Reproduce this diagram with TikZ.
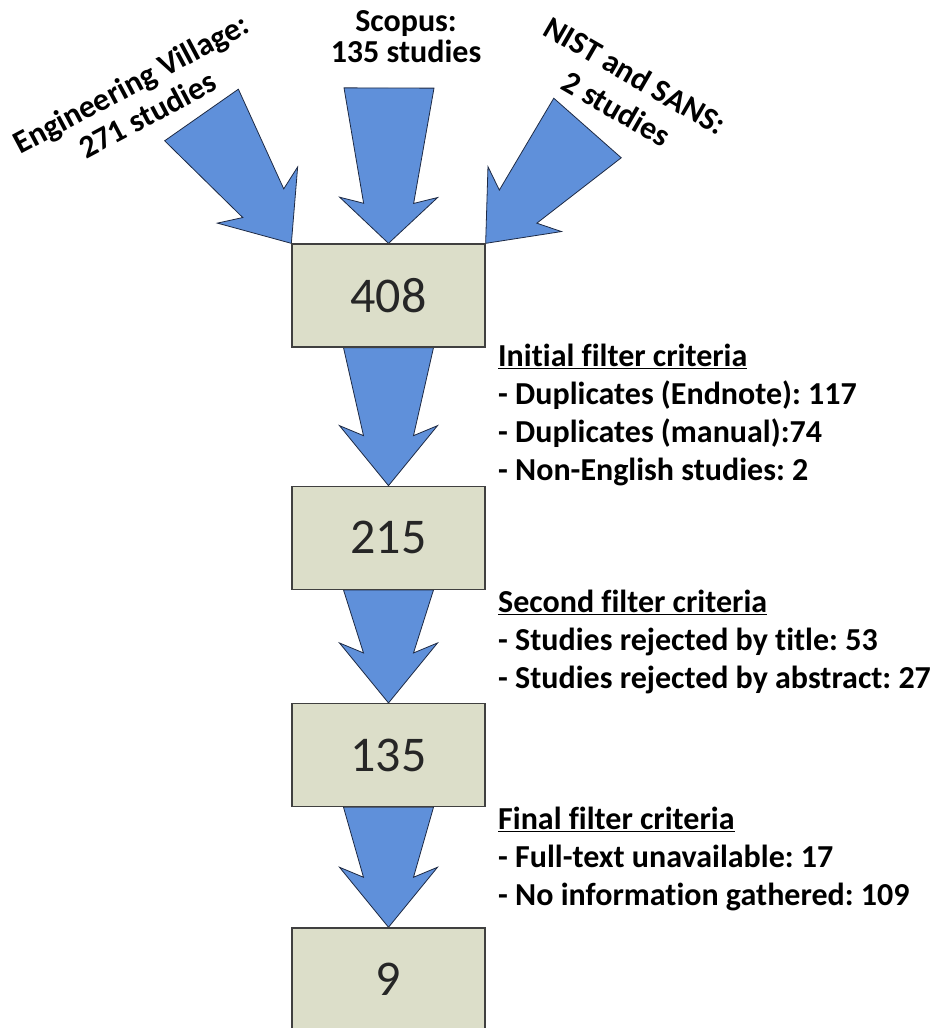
\documentclass[tikz,border=0pt]{standalone}
\usepackage{fontspec}
\setmainfont{Carlito}[Ligatures=NoCommon]
\usepackage{tikz}
\usetikzlibrary{calc, positioning}

\definecolor{arrowblue}{HTML}{5F90DA}
\definecolor{arrowline}{HTML}{1E2A44}
\definecolor{boxfill}{HTML}{DCDEC9}
\definecolor{boxline}{HTML}{404040}

% block arrow: tail, tip, barb distance from tip, inner corner distance from tip
\newcommand{\flowarrow}[4]{%
	\coordinate (ah) at ($(#2)!#3!(#1)$);
	\coordinate (ai) at ($(#2)!#4!(#1)$);
	\path [flow] ($(#1)!45pt!90:(#2)$) -- ($(ai)!25pt!90:(#2)$) -- ($(ah)!49pt!90:(#2)$)
		-- (#2) -- ($(ah)!49pt!-90:(#2)$) -- ($(ai)!25pt!-90:(#2)$) -- ($(#1)!45pt!-90:(#2)$) -- cycle;
}
\frenchspacing

\begin{document}
\begin{tikzpicture}[x=1pt,y=-1pt,
	box/.style={draw=boxline, line width=1.3pt, fill=boxfill, minimum width=193pt, minimum height=103pt, inner sep=0pt, font=\fontsize{50}{54}\selectfont, text=black!85},
	flow/.style={draw=arrowline, line width=0.8pt, fill=arrowblue, line join=miter},
	source/.style={align=center, inner sep=0pt, font=\fontsize{32}{31}\selectfont\bfseries},
	crit/.style={align=left, anchor=north west, inner sep=0pt, font=\fontsize{32}{38}\selectfont\bfseries}]
	
	\useasboundingbox (0,0) rectangle (938,1028);
	
	\coordinate (evtail) at (201.5,115);
	\coordinate (sctail) at (389,88);
	\coordinate (nstail) at (587.5,128);
	
	\node (b408) [box] at (388.5,295.5) {};
	\node (b215) [box, below=138pt of b408] {};
	\node (b135) [box, below=113pt of b215] {};
	\node (b9) [box, below=120pt of b135] {};
	
	\flowarrow{evtail}{b408.north west}{59pt}{49pt}
	\flowarrow{sctail}{b408.north}{46pt}{40pt}
	\flowarrow{nstail}{b408.north east}{59pt}{49pt}
	\flowarrow{b408.south}{b215.north}{60pt}{50pt}
	\flowarrow{b215.south}{b135.north}{60pt}{50pt}
	\flowarrow{b135.south}{b9.north}{60pt}{50pt}
	
	\node [box] at (b408) {408};
	\node [box] at (b215) {215};
	\node [box] at (b135) {135};
	\node [box] at (b9) {9};
	
	\node (ev) [source, rotate=28, font=\fontsize{32}{35}\selectfont\bfseries] at (139,99) {Engineering Village:\\271 studies};
	\node (sc) [source] at (406,37) {Scopus:\\135 studies};
	\node (ns) [source, rotate=-30, font=\fontsize{32}{38}\selectfont\bfseries] at (626,92) {NIST and SANS:\\2 studies};
	
	\node (initial) [crit] at (498,344) {\underline{Initial filter criteria}\\- Duplicates (Endnote): 117\\- Duplicates (manual):74\\- Non-English studies: 2};
	\node (second) [crit] at (498,590) {\underline{Second filter criteria}\\- Studies rejected by title: 53\\- Studies rejected by abstract: 27};
	\node (final) [crit] at (498,807) {\underline{Final filter criteria}\\- Full-text unavailable: 17\\- No information gathered: 109};
\end{tikzpicture}
\end{document}
